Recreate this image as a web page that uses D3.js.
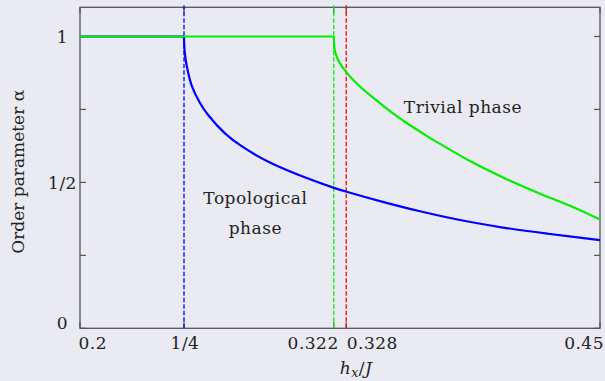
<!DOCTYPE html>
<html><head><meta charset="utf-8">
<script src="https://cdn.jsdelivr.net/npm/d3@7"></script>
<style>html,body{margin:0;padding:0;background:#eaeaf2;}svg{display:block;}</style>
</head><body><div id="chart"></div>
<script>
// ---- data ----
const blueX = [0.2, 0.25, 0.2503, 0.2513, 0.2537, 0.2577, 0.2617, 0.2697, 0.2777, 0.2913, 0.3074, 0.3218, 0.3282, 0.3442, 0.3635, 0.3827, 0.4019, 0.425, 0.45];
const blueY = [1, 1, 0.950, 0.900, 0.832, 0.772, 0.730, 0.668, 0.624, 0.568, 0.519, 0.482, 0.468, 0.436, 0.401, 0.371, 0.347, 0.324, 0.302];
const greenX = [0.2, 0.322, 0.3222, 0.3226, 0.3242, 0.3282, 0.3338, 0.3418, 0.3498, 0.3578, 0.3659, 0.3731, 0.3891, 0.4051, 0.4212, 0.4372, 0.45];
const greenY = [1, 1, 0.972, 0.949, 0.918, 0.876, 0.834, 0.785, 0.740, 0.700, 0.663, 0.632, 0.567, 0.511, 0.461, 0.415, 0.373];
const criticalX = [0.25, 0.322, 0.328];
const criticalColors = ["#0000ff", "#00f000", "#ff0000"];
const xTickValues = [0.2, 0.25, 0.322, 0.328, 0.45];
const xTickLabels = ["0.2", "1/4", "0.322", "0.328", "0.45"];
const yTickValues = [0, 0.25, 0.5, 0.75, 1];
const yLabelValues = [0, 0.5, 1];
const yLabelTexts = ["0", "1/2", "1"];
const phaseLabels = [
  {lines: ["Topological", "phase"], x: 0.2843, y: 0.425},
  {lines: ["Trivial phase"], x: 0.3841, y: 0.737}
];

const W = 605, H = 381;
const L = 80, R = 600, T = 7.3, B = 328.3;
const font = "'DejaVu Serif', serif";
const ink = "#222";
const fs = 17, ls = 0.5;

const svg = d3.select("#chart").append("svg").attr("width", W).attr("height", H);
svg.append("rect").attr("width", W).attr("height", H).attr("fill", "#eaeaf2");

const x = d3.scaleLinear().domain([0.2, 0.45]).range([L, R]);
const y = d3.scaleLinear().domain([0, 1.1]).range([B, T]);

// axis frame
svg.append("rect").attr("x", L).attr("y", T).attr("width", R - L).attr("height", B - T)
  .attr("fill", "none").attr("stroke", "#555").attr("stroke-width", 1.3);

// ticks (inside)
const tg = svg.append("g").attr("stroke", "#555").attr("stroke-width", 1.2);
tg.selectAll("line.l").data(yTickValues).join("line").attr("class", "l")
  .attr("x1", L).attr("x2", L + 6).attr("y1", d => y(d)).attr("y2", d => y(d));
tg.selectAll("line.r").data(yTickValues).join("line").attr("class", "r")
  .attr("x1", R - 6).attr("x2", R).attr("y1", d => y(d)).attr("y2", d => y(d));
tg.selectAll("line.b").data(xTickValues).join("line").attr("class", "b")
  .attr("x1", d => x(d)).attr("x2", d => x(d)).attr("y1", B).attr("y2", B - 6);
tg.selectAll("line.t").data(xTickValues).join("line").attr("class", "t")
  .attr("x1", d => x(d)).attr("x2", d => x(d)).attr("y1", T).attr("y2", T + 6);

function styleText(sel, spacing) {
  return sel.attr("font-family", font).attr("font-size", fs).attr("fill", ink)
    .style("letter-spacing", (spacing === undefined ? ls : spacing) + "px");
}

// y tick labels
styleText(svg.selectAll("text.ylab").data(yLabelValues).join("text").attr("class", "ylab")
  .attr("x", 62.5).attr("y", d => y(d) + (d === 0 ? 1 : 6.5))
  .attr("text-anchor", "middle"))
  .text((d, i) => yLabelTexts[i]);

// x tick labels
const xAnchor = ["start", "middle", "end", "start", "end"];
const xShift = [-1.5, 1, 5, 0.5, 4];
styleText(svg.selectAll("text.xlab").data(xTickValues).join("text").attr("class", "xlab")
  .attr("x", (d, i) => x(d) + xShift[i]).attr("y", 349)
  .attr("text-anchor", (d, i) => xAnchor[i]))
  .text((d, i) => xTickLabels[i]);

// axis titles
const xt = styleText(svg.append("text").attr("x", 356).attr("y", 374).attr("text-anchor", "middle"));
xt.append("tspan").attr("font-style", "italic").text("h");
xt.append("tspan").attr("font-style", "italic").attr("font-size", 12.5).attr("dy", 3).text("x");
xt.append("tspan").attr("dy", -3).text("/");
xt.append("tspan").attr("font-style", "italic").text("J");

styleText(svg.append("text").attr("transform", "translate(24," + ((B + T) / 2 + 4) + ") rotate(-90)")
  .attr("text-anchor", "middle"), 0)
  .text("Order parameter α");

// plot area clip
svg.append("clipPath").attr("id", "clip").append("rect")
  .attr("x", L).attr("y", T - 3).attr("width", R - L).attr("height", B - T + 3);
const plot = svg.append("g").attr("clip-path", "url(#clip)");

// critical dashed lines
plot.selectAll("line.crit").data(criticalX).join("line").attr("class", "crit")
  .attr("x1", d => x(d)).attr("x2", d => x(d)).attr("y1", y(0)).attr("y2", T - 3)
  .attr("stroke", (d, i) => criticalColors[i]).attr("stroke-width", 1.3)
  .attr("stroke-dasharray", "4.5,2");

// curves: flat part (linear) + decaying part (smooth)
const flatLine = d3.line().x(d => x(d[0])).y(d => y(d[1]));
const smoothLine = d3.line().x(d => x(d[0])).y(d => y(d[1])).curve(d3.curveCatmullRom.alpha(0.5));
function drawSeries(xs, ys, crit, color) {
  const pts = xs.map((v, i) => [v, ys[i]]);
  const flat = pts.filter(p => p[0] <= crit);
  const decay = pts.filter(p => p[0] >= crit);
  const g = plot.append("g").attr("fill", "none").attr("stroke", color)
    .attr("stroke-width", 2.2).attr("stroke-linejoin", "round");
  g.append("path").attr("d", flatLine(flat));
  g.append("path").attr("d", smoothLine(decay));
}
drawSeries(blueX, blueY, criticalX[0], "#0000ff");
drawSeries(greenX, greenY, criticalX[1], "#00f000");

// phase labels
phaseLabels.forEach(p => {
  const t = styleText(svg.append("text").attr("text-anchor", "middle"));
  p.lines.forEach((s, i) => {
    t.append("tspan").attr("x", x(p.x)).attr("y", y(p.y) + i * 30).text(s);
  });
});
</script>
</body></html>
